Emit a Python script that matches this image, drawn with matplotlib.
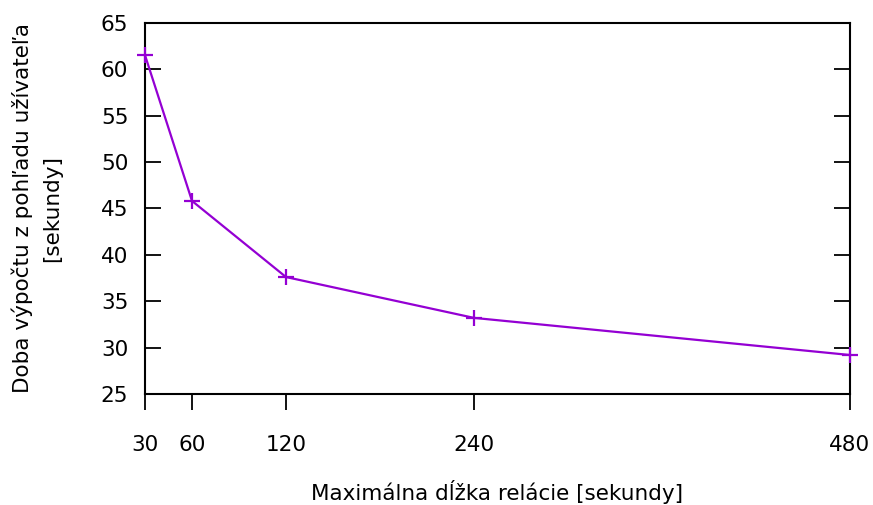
import matplotlib
matplotlib.use("Agg")
import matplotlib.pyplot as plt

session_len = [30, 60, 120, 240, 480]
compute_time = [61.5, 45.8, 37.6, 33.2, 29.2]
y_ticks = [25, 30, 35, 40, 45, 50, 55, 60, 65]

plt.rcParams['font.family'] = ['DejaVu Sans']
fig = plt.figure(figsize=(8.73, 5.05), dpi=100)
ax = fig.add_axes([145/873, 1-394/505, (850-145)/873, (394-22.7)/505])

ax.plot(session_len, compute_time, color='#9400D3', lw=1.6, marker='+',
        markersize=12, markeredgewidth=1.6, clip_on=False, zorder=5)

ax.set_xlim(30, 480)
ax.set_ylim(25, 65)
ax.set_xticks(session_len)
ax.set_yticks(y_ticks)
fs = 15.5
ax.tick_params(axis='y', direction='in', length=11.5, width=1.3, right=True, labelsize=fs, pad=12)
ax.tick_params(axis='x', direction='out', length=11.5, width=1.3, top=False, labelsize=fs, pad=18)
for s in ax.spines.values():
    s.set_linewidth(1.5)

ax.set_xlabel('Maximálna dĺžka relácie [sekundy]', fontsize=fs, labelpad=18)
ax.set_ylabel('Doba výpočtu z pohľadu užívateľa\n[sekundy]', fontsize=fs, labelpad=28, linespacing=1.55)

fig.savefig('out.png', dpi=100)
